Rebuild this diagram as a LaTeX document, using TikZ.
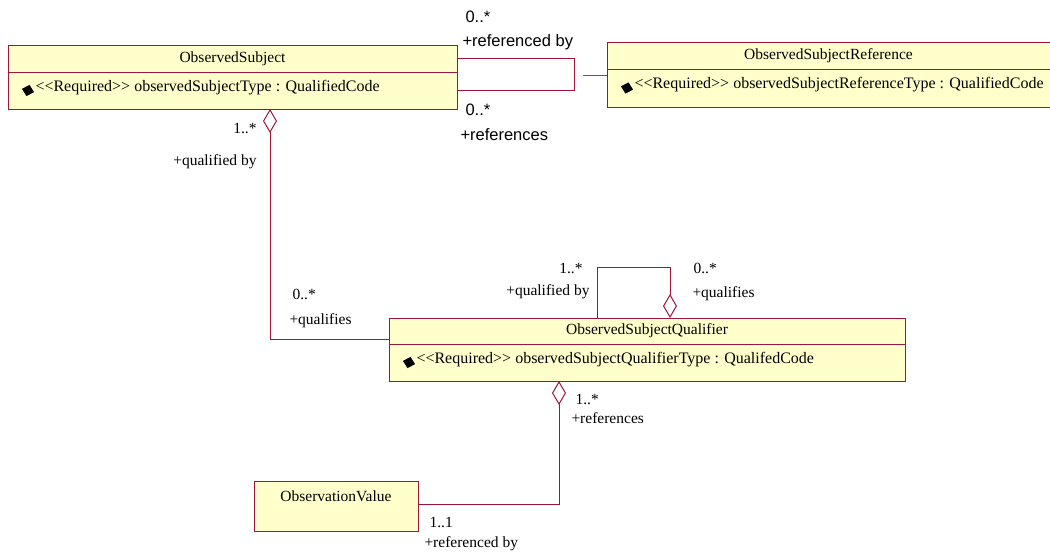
\documentclass[tikz,border=0pt]{standalone}
\usepackage{fontspec}
\setmainfont{Liberation Serif}
\setsansfont{Liberation Sans}
\usetikzlibrary{arrows.meta,shapes.geometric}
\definecolor{classfill}{RGB}{255,255,204}
\definecolor{classline}{RGB}{160,20,60}
\definecolor{stubline}{RGB}{90,90,90}
\newcommand{\stereo}[1]{<\kern0pt<#1>\kern0pt>}

\begin{document}
\begin{tikzpicture}[x=1pt,y=-1pt,line width=1pt]
  \tikzstyle{classhead}=[rectangle,draw=classline,fill=classfill,anchor=north west,inner sep=0pt,outer sep=0pt,minimum height=27pt,font=\fontsize{15.5}{18}\selectfont]
  \tikzstyle{classattr}=[rectangle,draw=classline,fill=classfill,anchor=north west,inner sep=0pt,outer sep=0pt,minimum height=37pt]
  \tikzstyle{attrmark}=[diamond,fill=black,rotate=-15,inner sep=0pt,minimum width=13pt,minimum height=12pt]
  \tikzstyle{attrtext}=[anchor=west,inner sep=0pt,font=\fontsize{16}{19}\selectfont]
  \tikzstyle{role}=[inner sep=0pt,font=\fontsize{15.5}{18}\selectfont]
  \tikzstyle{sansrole}=[inner sep=0pt,anchor=west,font=\sffamily\fontsize{16.5}{19}\selectfont]
  \tikzstyle{assoc}=[draw=classline,line width=1pt]
  \tikzset{agg/.tip={Diamond[open,length=24pt,width=14pt]}}
  \useasboundingbox (0,0) rectangle (1050,552);

  % classes
  \node[classhead,minimum width=449pt] (subjname) at (8,45) {ObservedSubject};
  \node[classattr,minimum width=449pt] (subjattr) at (subjname.south west) {};
  \node[attrmark] (subjmark) at ([xshift=20pt,yshift=0pt]subjattr.west) {};
  \node[attrtext] (subjtype) at ([xshift=27pt,yshift=3pt]subjattr.west) {\stereo{Required} observedSubjectType : QualifiedCode};

  \node[classhead,minimum width=443pt] (refname) at (607,42) {ObservedSubjectReference};
  \node[classattr,minimum width=443pt,minimum height=38pt] (refattr) at (refname.south west) {};
  \node[attrmark] (refmark) at ([xshift=20pt,yshift=0pt]refattr.west) {};
  \node[attrtext] (reftype) at ([xshift=27pt,yshift=3pt]refattr.west) {\stereo{Required} observedSubjectReferenceType : QualifiedCode};

  \node[classhead,minimum width=516pt,minimum height=26pt] (qualname) at (389,318) {ObservedSubjectQualifier};
  \node[classattr,minimum width=516pt] (qualattr) at (qualname.south west) {};
  \node[attrmark] (qualmark) at ([xshift=20pt,yshift=0pt]qualattr.west) {};
  \node[attrtext] (qualtype) at ([xshift=27pt,yshift=3pt]qualattr.west) {\stereo{Required} observedSubjectQualifierType : QualifedCode};

  \node[classhead,minimum width=164pt,minimum height=50pt,text height=11pt,text depth=20pt] (valname) at (254,481) {ObservationValue};

  % associations
  \draw[assoc] ([yshift=-13pt]subjname.north east) -- ++(117,0) |- (subjattr.east);
  \draw[stubline,line width=1pt] ([yshift=-6pt]refname.south west) -- ++(-24,0);
  \draw[assoc,agg-] ([xshift=262pt]subjattr.south west) |- ([yshift=-8pt]qualname.west);
  \draw[assoc,agg-] ([xshift=281pt]qualname.north west) -- ++(0,-51) -| ([xshift=208pt]qualname.north west);
  \draw[assoc,agg-] ([xshift=170pt]qualattr.south west) |- ([yshift=2pt]valname.east);

  % roles
  \node[sansrole] (refbymult) at (465,17) {0..*};
  \node[sansrole] (refbyrole) at (462,42) {+referenced by};
  \node[sansrole] (refsmult) at (465,110) {0..*};
  \node[sansrole] (refsrole) at (460,135) {+references};

  \node[role,anchor=east] (qbymult) at (257,128) {1..*};
  \node[role,anchor=east] (qbyrole) at (257,162) {+qualified by};
  \node[role,anchor=west] (qsmult) at (292,294) {0..*};
  \node[role,anchor=west] (qsrole) at (289,321) {+qualifies};

  \node[role,anchor=east] (selfbymult) at (583,268) {1..*};
  \node[role,anchor=east] (selfbyrole) at (590,292) {+qualified by};
  \node[role,anchor=west] (selfsmult) at (693,268) {0..*};
  \node[role,anchor=west] (selfsrole) at (692,294) {+qualifies};

  \node[role,anchor=west] (valsmult) at (575,399) {1..*};
  \node[role,anchor=west] (valsrole) at (571,418) {+references};
  \node[role,anchor=west] (valbymult) at (429,522) {1..1};
  \node[role,anchor=west] (valbyrole) at (424,544) {+referenced by};
\end{tikzpicture}
\end{document}
